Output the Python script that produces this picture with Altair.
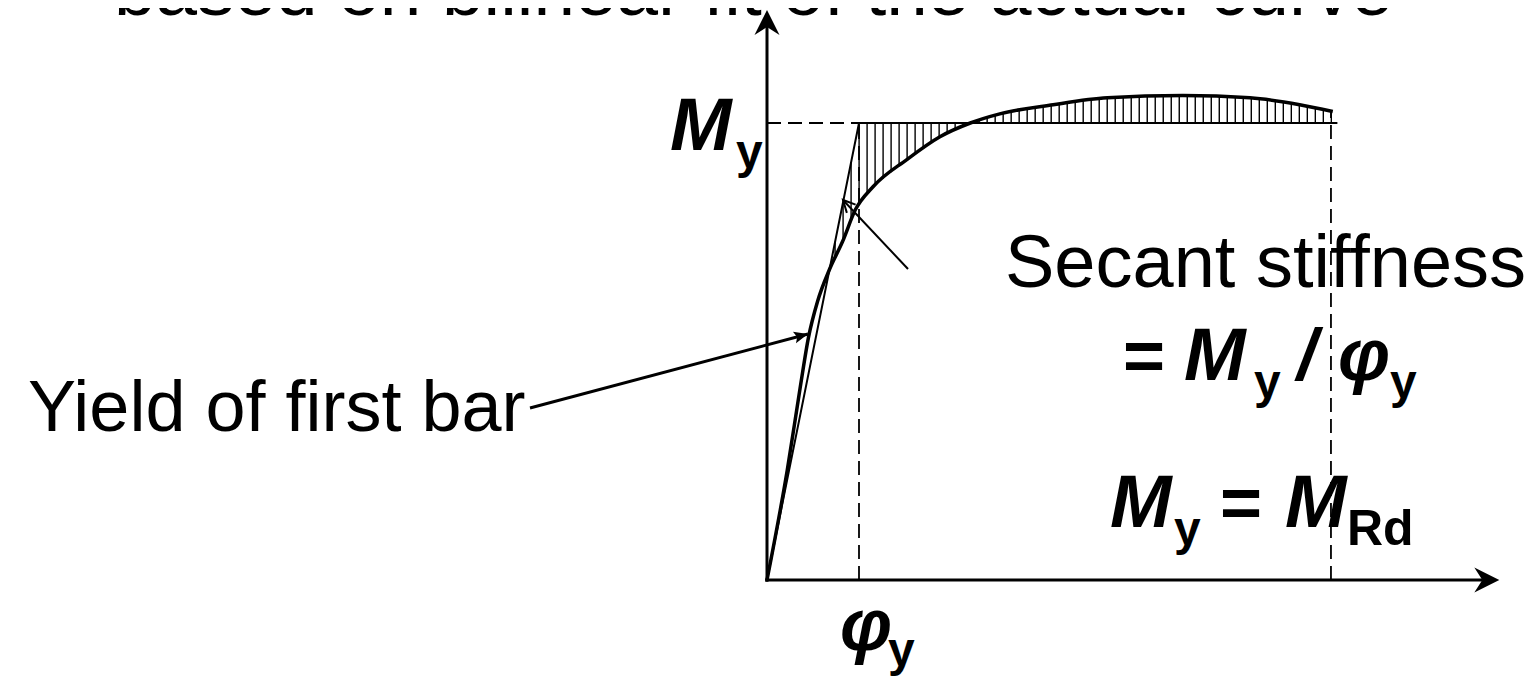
import altair as alt
import pandas as pd
import numpy as np

# ---------------- data (normalised: curvature / phi_y , moment / M_y) ----------------
phi_curve = [0, 0.22, 0.36, 0.45, 0.55, 0.68, 0.82, 0.96, 1.15, 1.52, 1.88, 2.21,
             2.53, 3.11, 3.70, 4.52, 5.25, 5.79, 6.15]
m_curve = [0, 0.24, 0.42, 0.53, 0.61, 0.68, 0.74, 0.81, 0.86, 0.92, 0.97, 1.00,
           1.02, 1.04, 1.055, 1.06, 1.055, 1.04, 1.025]

phi_bilinear = [0, 1.0, 6.2]
m_bilinear = [0, 1.0, 1.0]

phi_y = 1.0
m_y = 1.0
phi_u = 6.13          # ultimate curvature (right dashed line)
m_u = 1.025
phi_axis_end = 7.96   # x-axis arrow tip
m_axis_end = 1.247    # y-axis arrow tip

title_text = "based on bilinear fit of the actual curve"

# ---------------- layout ----------------
W, H = 1521, 669
ORX, ORY = 767, 580          # page pixel of origin
PXX, PXY = 92.0, 457.0       # pixels per unit
XMIN = (8 - ORX) / PXX
XMAX = XMIN + W / PXX
YMAX = (ORY - 8) / PXY
YMIN = YMAX - H / PXY

def ux(px):
    return (px - ORX) / PXX

def uy(py):
    return (ORY - py) / PXY

xs = alt.Scale(domain=[XMIN, XMAX], nice=False, zero=False)
ys = alt.Scale(domain=[YMIN, YMAX], nice=False, zero=False)
X = lambda f: alt.X(f, type="quantitative", scale=xs, axis=None)
Y = lambda f: alt.Y(f, type="quantitative", scale=ys, axis=None)

# ---------------- hatching between bilinear and actual curve ----------------
ph = np.arange(0.74, 6.15, 0.087)
mc = np.interp(ph, phi_curve, m_curve)
mb = np.minimum(ph, m_y)
keep = np.abs(mc - mb) > 0.006
hatch_df = pd.DataFrame({"x": ph[keep], "y": mb[keep], "y2": mc[keep]})

hatch = alt.Chart(hatch_df).mark_rule(color="black", strokeWidth=1.4).encode(
    x=X("x"), y=Y("y"), y2="y2")

# ---------------- dashed guides ----------------
dash_df = pd.DataFrame({
    "x": [0, phi_y, phi_u], "x2": [phi_y, phi_y, phi_u],
    "y": [m_y, 0, 0], "y2": [m_y, m_y, m_u]})
dashed = alt.Chart(dash_df).mark_rule(color="black", strokeWidth=1.8,
                                      strokeDash=[14, 7]).encode(
    x=X("x"), x2="x2", y=Y("y"), y2="y2")

# ---------------- curves ----------------
bil_df = pd.DataFrame({"x": phi_bilinear, "y": m_bilinear})
bil = alt.Chart(bil_df).mark_line(color="black", strokeWidth=2).encode(
    x=X("x"), y=Y("y"))

cur_df = pd.DataFrame({"x": phi_curve, "y": m_curve})
cur = alt.Chart(cur_df).mark_line(color="black", strokeWidth=3.5,
                                  interpolate="monotone").encode(
    x=X("x"), y=Y("y"))

# ---------------- axes with arrows ----------------
axes_df = pd.DataFrame({"x": [-0.02, 0], "x2": [phi_axis_end - 0.18, 0],
                        "y": [0, -0.004], "y2": [0, m_axis_end - 0.035]})
axes = alt.Chart(axes_df).mark_rule(color="black", strokeWidth=3).encode(
    x=X("x"), x2="x2", y=Y("y"), y2="y2")

ARROW = "M0,0L-2,-1L-1.36,0L-2,1Z"
xarrow = alt.Chart(pd.DataFrame({"x": [phi_axis_end], "y": [0]})).mark_point(
    shape=ARROW, size=625, filled=True, color="black", opacity=1,
    strokeWidth=0).encode(x=X("x"), y=Y("y"))
yarrow = alt.Chart(pd.DataFrame({"x": [0], "y": [m_axis_end]})).mark_point(
    shape=ARROW, size=625, filled=True, color="black", opacity=1,
    strokeWidth=0, angle=270).encode(x=X("x"), y=Y("y"))

# ---------------- annotation arrows ----------------
yield_from = (ux(530), uy(408))
yield_to = (ux(808), uy(334))
sec_from = (ux(908), uy(269))
sec_to = (ux(843), uy(200))

def screen_angle(a, b):
    dx = (b[0] - a[0]) * PXX
    dy = -(b[1] - a[1]) * PXY
    return float(np.degrees(np.arctan2(dy, dx)) % 360)

yl = alt.Chart(pd.DataFrame({"x": [yield_from[0]], "y": [yield_from[1]],
                             "x2": [yield_to[0]], "y2": [yield_to[1]]})).mark_rule(
    color="black", strokeWidth=3).encode(x=X("x"), y=Y("y"), x2="x2", y2="y2")
yh = alt.Chart(pd.DataFrame({"x": [yield_to[0]], "y": [yield_to[1]]})).mark_point(
    shape="M0,0L-2,-0.85L-1.6,0L-2,0.85Z", size=196, filled=True, color="black",
    opacity=1, strokeWidth=0, angle=screen_angle(yield_from, yield_to)).encode(
    x=X("x"), y=Y("y"))

sl = alt.Chart(pd.DataFrame({"x": [sec_from[0]], "y": [sec_from[1]],
                             "x2": [sec_to[0]], "y2": [sec_to[1]]})).mark_rule(
    color="black", strokeWidth=2).encode(x=X("x"), y=Y("y"), x2="x2", y2="y2")
sh = alt.Chart(pd.DataFrame({"x": [sec_to[0]], "y": [sec_to[1]]})).mark_point(
    shape="M-2,-1L0,0L-2,1", size=144, filled=False, color="black", opacity=1,
    strokeWidth=2, angle=screen_angle(sec_from, sec_to)).encode(
    x=X("x"), y=Y("y"))

# ---------------- texts ----------------
reg_t = [title_text, "Yield of first bar", "Secant stiffness"]
reg_x = [114, 28, 1005]
reg_y = [15, 431, 287]
reg_s = [74.7, 72, 74]

bold_t = ["=", "y", "y", "y", "=", "Rd", "y", "y"]
bold_x = [1123, 1254, 1390, 1174, 1220, 1347, 736, 888]
bold_y = [380, 398, 398, 545, 527, 545, 168, 666]
bold_s = [72, 48, 48, 48, 72, 50, 48, 48]

bi_t = ["M", "/", "φ", "M", "M", "M", "φ"]
bi_x = [1184, 1297, 1338, 1110, 1285, 670, 840]
bi_y = [380, 380, 380, 527, 527, 150, 650]
bi_s = [74, 72, 74, 74, 74, 74, 74]

def text_layer(t, xp, yp, s, **kw):
    df = pd.DataFrame({"t": t, "x": [ux(v) for v in xp],
                       "y": [uy(v) for v in yp], "s": s})
    return alt.Chart(df).mark_text(align="left", baseline="alphabetic",
                                   font="Liberation Sans", color="black",
                                   **kw).encode(
        x=X("x"), y=Y("y"), text="t:N",
        size=alt.Size("s:Q", scale=None, legend=None))

t_reg = text_layer(reg_t, reg_x, reg_y, reg_s, fontWeight="normal")
t_bold = text_layer(bold_t, bold_x, bold_y, bold_s, fontWeight="bold")
t_bi = text_layer(bi_t, bi_x, bi_y, bi_s, fontWeight="bold", fontStyle="italic")

chart = alt.layer(hatch, dashed, bil, cur, axes, xarrow, yarrow, yl, yh, sl, sh,
                  t_reg, t_bold, t_bi).properties(
    width=W, height=H, padding=0,
    autosize=alt.AutoSizeParams(type="none")
).configure_view(stroke=None)

chart.save("out.html", embed_options={"renderer": "svg", "actions": False})
